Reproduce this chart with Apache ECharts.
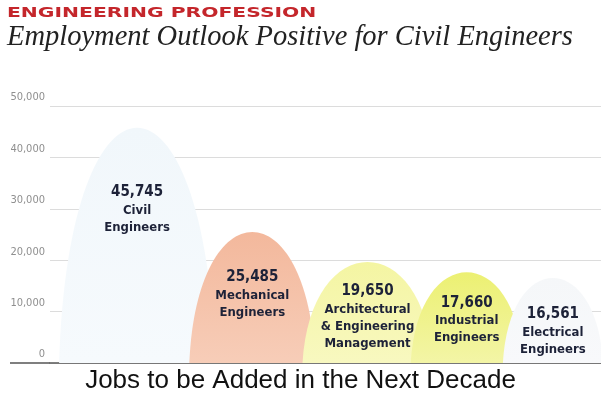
<!DOCTYPE html>
<html>
<head>
<meta charset="utf-8">
<script src="https://cdn.jsdelivr.net/npm/echarts@6/dist/echarts.min.js"></script>
<style>
  html, body { margin: 0; padding: 0; background: #ffffff; }
  #chart { width: 601px; height: 396px; }
</style>
</head>
<body>
<div id="chart"></div>
<script>
// Projected job growth by engineering field
const categories = [
  'Civil Engineers',
  'Mechanical Engineers',
  'Architectural & Engineering Management',
  'Industrial Engineers',
  'Electrical Engineers'
];
const labelLines = [
  ['Civil', 'Engineers'],
  ['Mechanical', 'Engineers'],
  ['Architectural', '& Engineering', 'Management'],
  ['Industrial', 'Engineers'],
  ['Electrical', 'Engineers']
];
const jobsAdded = [45745, 25485, 19650, 17660, 16561];

// Value axis range
const yMin = 0;
const yMax = 50000;
const yStep = 10000;

// Look of each dome: fill colours, width, horizontal shift, label drop
const domeStyle = [
  { top: '#f1f7fb', bottom: '#f6fafd', width: 156, shift: 32, drop: 50 },
  { top: '#f3b89c', bottom: '#f7cdb8', width: 126, shift: 37, drop: 31 },
  { top: '#f4f5a2', bottom: '#f8f8c0', width: 130, shift: 42, drop: 15 },
  { top: '#ecf072', bottom: '#f3f5a6', width: 112, shift: 31, drop: 16 },
  { top: '#f5f7f9', bottom: '#f8f9fb', width: 100, shift: 7, drop: 22 }
];

const domePath = 'path://M0,100 C6,-32 94,-32 100,100 Z';
const labelFont = '"Liberation Sans Narrow", "DejaVu Sans Condensed", "Roboto", sans-serif';

const chart = echarts.init(document.getElementById('chart'), null, { renderer: 'canvas' });

const seriesData = jobsAdded.map((v, i) => {
  const s = domeStyle[i];
  return {
    value: v,
    symbolSize: [s.width, '100%'],
    symbolOffset: [s.shift, 0],
    itemStyle: {
      color: new echarts.graphic.LinearGradient(0, 0, 0, 1, [
        { offset: 0, color: s.top },
        { offset: 1, color: s.bottom }
      ])
    },
    label: {
      show: true,
      position: 'insideTop',
      offset: [s.shift, s.drop],
      formatter: () => '{n|' + v.toLocaleString('en-US') + '}\n' +
        labelLines[i].map(t => '{t|' + t + '}').join('\n')
    }
  };
});

chart.setOption({
  animation: false,
  backgroundColor: '#ffffff',
  grid: { left: 50, right: 0, top: 106, bottom: 33 },
  xAxis: {
    type: 'category',
    data: categories,
    axisLine: { show: true, lineStyle: { color: '#555555', width: 1.5 } },
    axisTick: { show: false },
    axisLabel: { show: false }
  },
  yAxis: {
    type: 'value',
    min: yMin,
    max: yMax,
    interval: yStep,
    axisLine: { show: false },
    axisTick: { show: false },
    axisLabel: {
      color: '#8f8f8f',
      fontSize: 11,
      fontFamily: labelFont,
      margin: 5,
      verticalAlign: 'bottom',
      padding: [0, 0, 3, 0],
      formatter: v => v.toLocaleString('en-US')
    },
    splitLine: { lineStyle: { color: '#dcdcdc', width: 1.2 } }
  },
  series: [{
    type: 'pictorialBar',
    symbol: domePath,
    symbolRepeat: false,
    symbolPosition: 'start',
    z: 3,
    label: {
      color: '#1d2238',
      fontFamily: labelFont,
      fontWeight: 'bold',
      lineHeight: 17,
      rich: {
        n: { fontSize: 15, fontWeight: 'bold', fontFamily: labelFont, color: '#1d2238', lineHeight: 19 },
        t: { fontSize: 13, fontWeight: 'bold', fontFamily: labelFont, color: '#1d2238', lineHeight: 17 }
      }
    },
    data: seriesData
  }],
  graphic: [
    {
      type: 'text', left: 7, top: 6, scaleX: 1.45,
      style: {
        text: 'ENGINEERING PROFESSION',
        fill: '#c4262b',
        font: 'bold 14px "DejaVu Sans", sans-serif'
      }
    },
    {
      type: 'text', left: 7, top: 23,
      style: {
        text: 'Employment Outlook Positive for Civil Engineers',
        fill: '#222222',
        font: 'italic 28.5px "Liberation Serif", "DejaVu Serif", serif'
      }
    },
    {
      type: 'line',
      shape: { x1: 10, y1: 363, x2: 50, y2: 363 },
      style: { stroke: '#555555', lineWidth: 1.5 }
    },
    {
      type: 'text', left: 'center', top: 368,
      style: {
        text: 'Jobs to be Added in the Next Decade',
        fill: '#111111',
        font: '26px "Liberation Sans", Arial, sans-serif'
      }
    }
  ]
});
</script>
</body>
</html>
